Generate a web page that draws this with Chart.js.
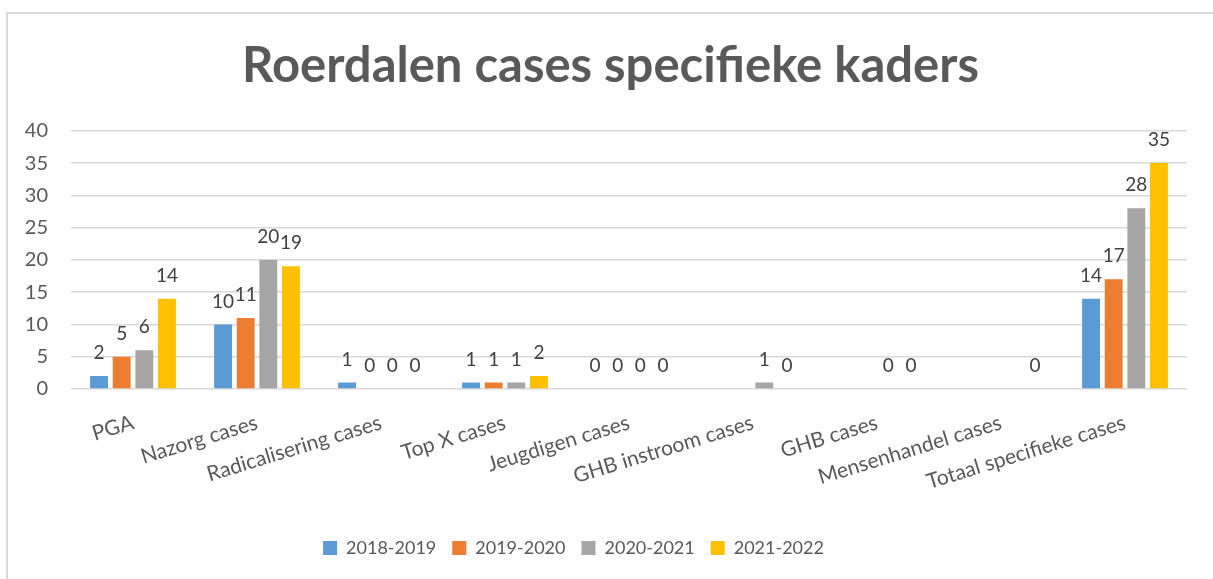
<!DOCTYPE html>
<html>
<head>
<meta charset="utf-8">
<script src="https://cdn.jsdelivr.net/npm/chart.js@4.4.1/dist/chart.umd.min.js"></script>
<style>
  html, body { margin: 0; padding: 0; background: #ffffff; }
  #wrap { position: relative; width: 1213px; height: 579px; overflow: hidden; }
  #frame { position: absolute; left: 6px; top: 12px; width: 1300px; height: 700px;
           border-left: 2px solid #d9d9d9; border-top: 2px solid #d9d9d9; box-sizing: border-box; }
  canvas { position: absolute; left: 0; top: 0; }
</style>
</head>
<body>
<div id="wrap">
  <div id="frame"></div>
  <canvas id="c" width="1213" height="579"></canvas>
</div>
<script>
const categories = ["PGA", "Nazorg cases", "Radicalisering cases", "Top X cases", "Jeugdigen cases",
                    "GHB instroom cases", "GHB cases", "Mensenhandel cases", "Totaal specifieke cases"];
const seriesNames = ["2018-2019", "2019-2020", "2020-2021", "2021-2022"];
const s2018 = [2, 10, 1, 1, 0, null, null, null, 14];
const s2019 = [5, 11, 0, 1, 0, null, null, null, 17];
const s2020 = [6, 20, 0, 1, 0, 1, 0, null, 28];
const s2021 = [14, 19, 0, 2, 0, 0, 0, 0, 35];
const colors = ["#5B9BD5", "#ED7D31", "#A5A5A5", "#FFC000"];
const yTicks = [0, 5, 10, 15, 20, 25, 30, 35, 40];

Chart.defaults.font.family = "Lato, 'Open Sans', sans-serif";
Chart.defaults.color = "#595959";

const valueLabels = {
  id: "valueLabels",
  afterDatasetsDraw(chart) {
    const ctx = chart.ctx;
    ctx.save();
    ctx.font = "19px Lato, 'Open Sans', sans-serif";
    ctx.fillStyle = "#404040";
    ctx.textAlign = "center";
    ctx.textBaseline = "middle";
    chart.data.datasets.forEach((ds, i) => {
      const meta = chart.getDatasetMeta(i);
      meta.data.forEach((el, j) => {
        const v = ds.data[j];
        if (v === null || v === undefined) return;
        ctx.fillText(String(v), el.x, el.y - 23);
      });
    });
    ctx.restore();
  }
};

const boxShift = {
  id: "boxShift",
  afterLayout(chart) {
    if (chart.legend) { chart.legend.left -= 20; chart.legend.right -= 20; }
    if (chart.titleBlock) { chart.titleBlock.left += 17; chart.titleBlock.right += 17; }
  }
};

const allSeries = [s2018, s2019, s2020, s2021];
new Chart(document.getElementById("c"), {
  type: "bar",
  data: {
    labels: categories,
    datasets: allSeries.map((d, i) => ({
      label: seriesNames[i],
      data: d,
      backgroundColor: colors[i],
      borderWidth: 0,
      categoryPercentage: 0.73,
      barPercentage: 0.79
    }))
  },
  options: {
    responsive: false,
    animation: false,
    layout: { padding: { left: 0, right: 26, top: 0, bottom: 12 } },
    plugins: {
      title: {
        display: true,
        text: "Roerdalen cases specifieke kaders",
        font: { size: 49, weight: "bold", lineHeight: 1.2 },
        color: "#595959",
        padding: { top: 37, bottom: 35 }
      },
      legend: {
        position: "bottom",
        labels: {
          boxWidth: 14, boxHeight: 14, padding: 16,
          font: { size: 18 }, color: "#595959"
        }
      },
      tooltip: { enabled: false }
    },
    scales: {
      x: {
        grid: { display: false },
        border: { display: false },
        ticks: { autoSkip: false, minRotation: 17, maxRotation: 17, padding: 13,
                 font: { size: 21 }, color: "#595959" },
        afterFit(scale) { scale.height = 134; }
      },
      y: {
        min: 0, max: 40,
        afterBuildTicks(scale) { scale.ticks = yTicks.map(v => ({ value: v })); },
        grid: { color: "#d9d9d9", lineWidth: 1.5, drawTicks: false },
        border: { display: false },
        ticks: { padding: 23, font: { size: 20 }, color: "#595959" },
        afterFit(scale) { scale.width = 71; }
      }
    }
  },
  plugins: [valueLabels, boxShift]
});
</script>
</body>
</html>
